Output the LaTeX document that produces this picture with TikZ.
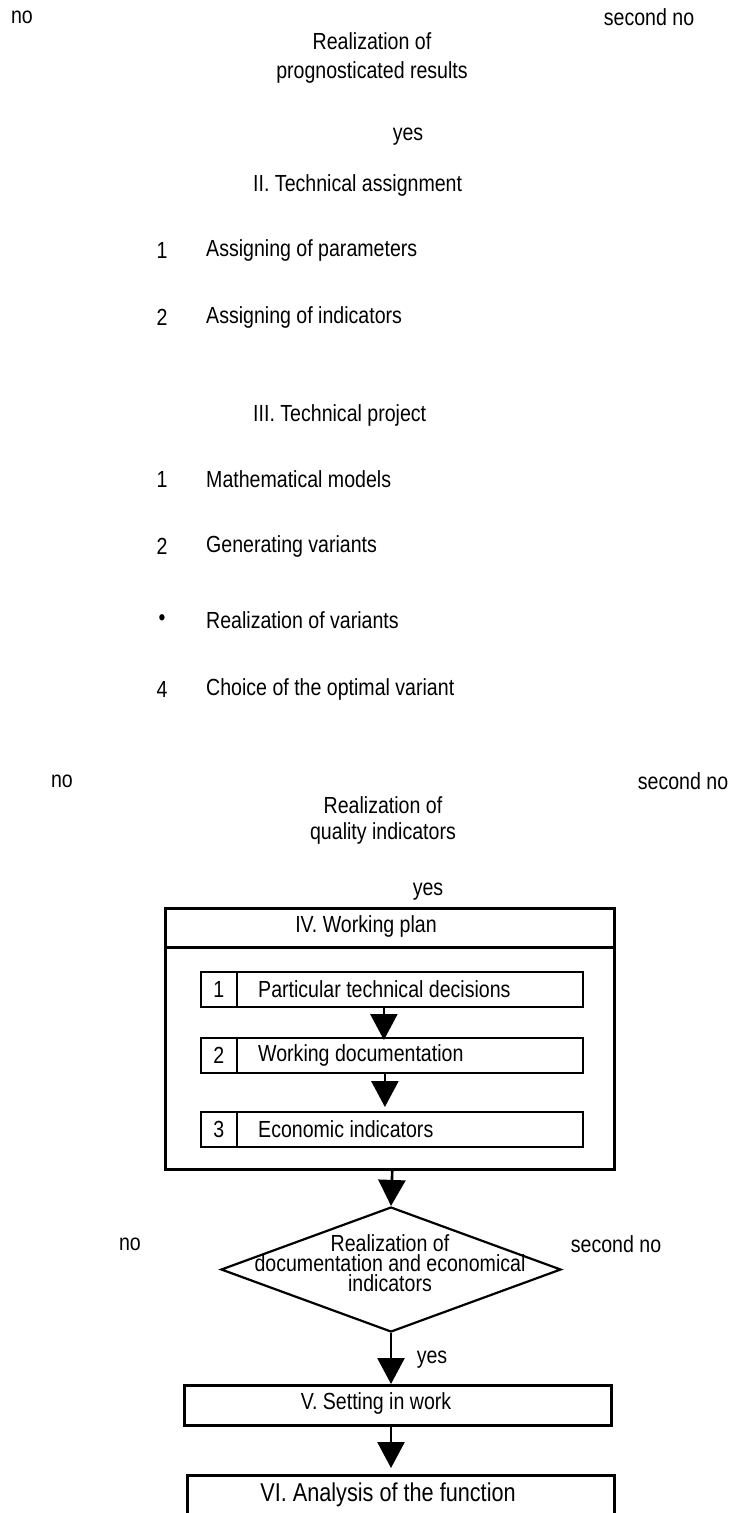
\documentclass[tikz,border=0pt]{standalone}
\usepackage{fontspec}
\setmainfont{Liberation Sans}[FakeStretch=0.84]
\usetikzlibrary{arrows.meta,shapes.geometric}
\tikzset{
  txt/.style={inner sep=0pt, font=\fontsize{23.3}{29}\selectfont},
  cell/.style={draw, line width=1.8pt, minimum height=35pt, inner sep=0pt,
    font=\fontsize{23.3}{29}\selectfont},
  plan/.style={draw, line width=2.5pt, inner sep=0pt},
  decision/.style={draw, diamond, line width=2.2pt, inner sep=0pt,
    minimum width=340pt, minimum height=125pt},
  flow/.style={line width=2.6pt, -{Triangle[width=27pt,length=26pt]}}
}
\begin{document}
\begin{tikzpicture}[x=1pt,y=-1pt]
  \useasboundingbox (0,0) rectangle (731,1513);
  % first check
  \node[txt] (no1) at (22,17) {no};
  \node[txt] (sno1) at (649,17) {second no};
  \node[txt, align=center] (real1) at (372,57.5) {Realization of\\prognosticated results};
  \node[txt] (yes1) at (408,137) {yes};
  % II
  \node[txt, anchor=west] (ta) at (253,185) {II. Technical assignment};
  \node[txt] (ta1n) at (162,250) {1};
  \node[txt, anchor=west] (ta1) at (206,250) {Assigning of parameters};
  \node[txt] (ta2n) at (162,317) {2};
  \node[txt, anchor=west] (ta2) at (206,317) {Assigning of indicators};
  % III
  \node[txt, anchor=west] (tp) at (253,415) {III. Technical project};
  \node[txt] (tp1n) at (162,479) {1};
  \node[txt, anchor=west] (tp1) at (206,479) {Mathematical models};
  \node[txt] (tp2n) at (162,546) {2};
  \node[txt, anchor=west] (tp2) at (206,546) {Generating variants};
  \node[txt] (tp3n) at (162,620) {\textbullet};
  \node[txt, anchor=west] (tp3) at (206,620) {Realization of variants};
  \node[txt] (tp4n) at (162,689) {4};
  \node[txt, anchor=west] (tp4) at (206,689) {Choice of the optimal variant};
  % second check
  \node[txt] (no2) at (62,781) {no};
  \node[txt] (sno2) at (683,781) {second no};
  \node[txt, align=center, font=\fontsize{23.3}{26}\selectfont] (real2) at (383,820)
    {Realization of\\quality indicators};
  \node[txt] (yes2) at (428,892) {yes};
  % IV
  \node[plan, anchor=north west, minimum width=449pt, minimum height=39pt] (head) at (164,907) {};
  \node[plan, anchor=north west, minimum width=449pt, minimum height=222pt] (body) at (164,946) {};
  \node[txt] (headt) at (366,926) {IV. Working plan};
  \node[cell, anchor=north west, minimum width=36pt] (n1) at (200,971) {1};
  \node[cell, anchor=north west, minimum width=346pt] (t1) at (236,971) {};
  \node[txt, anchor=west] (t1t) at ([xshift=22pt]t1.west) {Particular technical decisions};
  \node[cell, anchor=north west, minimum width=36pt] (n2) at (200,1037) {2};
  \node[cell, anchor=north west, minimum width=346pt] (t2) at (236,1037) {};
  \node[txt, anchor=west] (t2t) at ([xshift=22pt]t2.west) {Working documentation};
  \node[cell, anchor=north west, minimum width=36pt] (n3) at (200,1111) {3};
  \node[cell, anchor=north west, minimum width=346pt] (t3) at (236,1111) {};
  \node[txt, anchor=west] (t3t) at ([xshift=22pt]t3.west) {Economic indicators};
  % third check
  \node[decision] (dec) at (391,1269.5) {};
  \node[txt, align=center, font=\fontsize{23.3}{20}\selectfont] (dect) at (390,1263)
    {Realization of\\documentation and economical\\indicators};
  \node[txt] (no3) at (130,1244) {no};
  \node[txt] (sno3) at (616,1244) {second no};
  \node[txt] (yes3) at (432,1360) {yes};
  % V and VI
  \node[plan, anchor=north west, minimum width=427pt, minimum height=40pt] (v) at (183,1384) {};
  \node[txt] (vt) at (376,1403) {V. Setting in work};
  \node[plan, anchor=north west, minimum width=427pt, minimum height=40pt] (vi) at (186,1474) {};
  \node[txt, font=\fontsize{25.8}{30}\selectfont] (vit) at (388,1495) {VI. Analysis of the function};
  % arrows
  \draw[flow, shorten >=-3pt] ([xshift=-26pt]t1.south) -- ([xshift=-26pt]t2.north);
  \draw[flow, shorten >=4pt] ([xshift=-25pt]t2.south) -- ([xshift=-25pt]t3.north);
  \draw[flow] ([xshift=2.5pt]body.south) -- (dec.north);
  \draw[flow] (dec.south) -- (dec.south |- v.north);
  \draw[flow, shorten >=6pt] (dec.south |- v.south) -- (dec.south |- vi.north);
\end{tikzpicture}
\end{document}
